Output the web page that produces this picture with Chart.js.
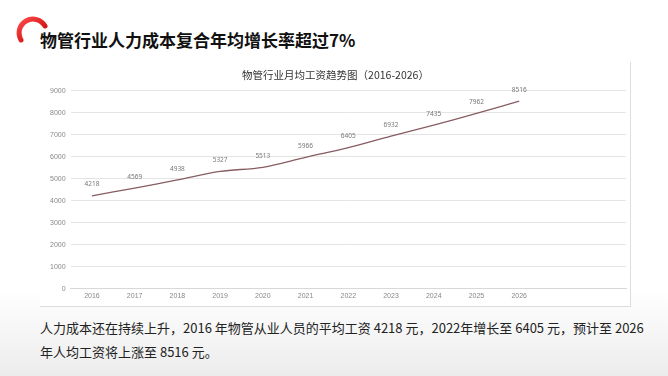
<!DOCTYPE html>
<html><head><meta charset="utf-8">
<script src="https://cdn.jsdelivr.net/npm/chart.js@4"></script>
<style>
html,body{margin:0;padding:0;width:668px;height:376px;overflow:hidden;background:#fff;font-family:"Noto Sans CJK SC","Noto Sans",sans-serif;}
#shade{position:absolute;left:0;top:290px;width:668px;height:86px;background:linear-gradient(to bottom,rgba(240,240,240,0),#ececec);}
#title{position:absolute;left:40px;top:27px;font-size:17px;font-weight:bold;color:#111;}
#logo{position:absolute;left:14px;top:14px;}
#box{position:absolute;left:40px;top:62px;width:590px;height:244px;border-right:1px solid #ddd;border-bottom:1px solid #ddd;background:#fff;}
#note{position:absolute;left:40px;top:316px;font-size:13px;line-height:24px;color:#222;width:620px;}
</style></head><body>
<div id="shade"></div>
<svg id="logo" width="36" height="36" viewBox="0 0 36 36">
<defs><linearGradient id="g" x1="0" y1="0" x2="1" y2="1"><stop offset="0" stop-color="#ff4a4a"/><stop offset="1" stop-color="#c40000"/></linearGradient></defs>
<path d="M7 26 A13 13 0 0 1 31 12" fill="none" stroke="url(#g)" stroke-width="5" stroke-linecap="round"/>
</svg>
<div id="title">物管行业人力成本复合年均增长率超过7%</div>
<div id="box"><canvas id="c" width="590" height="244"></canvas></div>
<div id="note">人力成本还在持续上升，2016 年物管从业人员的平均工资 4218 元，2022年增长至 6405 元，预计至 2026<br>年人均工资将上涨至 8516 元。</div>
<script>
const categories = ['2016','2017','2018','2019','2020','2021','2022','2023','2024','2025','2026','',''];
const wages = [4218,4569,4938,5327,5513,5966,6405,6932,7435,7962,8516,null,null];
const yTicks = [0,1000,2000,3000,4000,5000,6000,7000,8000,9000];
const chartTitle = '物管行业月均工资趋势图（2016-2026）';

const labelPlugin = {
  id:'vlabels',
  afterDatasetsDraw(chart){
    const ctx = chart.ctx;
    const meta = chart.getDatasetMeta(0);
    ctx.save();
    ctx.font = '6.5px "Noto Sans","DejaVu Sans",sans-serif';
    ctx.fillStyle = '#777';
    ctx.textAlign = 'center';
    ctx.textBaseline = 'bottom';
    meta.data.forEach((pt,i)=>{
      const v = wages[i];
      if(v==null) return;
      ctx.fillText(String(v), pt.x, pt.y-8);
    });
    ctx.restore();
  }
};

new Chart(document.getElementById('c'),{
  type:'line',
  data:{labels:categories,datasets:[{data:wages,borderColor:'#875d62',borderWidth:1.3,pointRadius:0,tension:0.35,fill:false}]},
  options:{
    responsive:false,animation:false,
    layout:{padding:{left:5,right:4,top:3,bottom:3}},
    plugins:{legend:{display:false},tooltip:{enabled:false},
      title:{display:true,text:chartTitle,color:'#333',font:{size:10.5,weight:'normal',family:'"Noto Sans CJK SC"'},padding:{top:4,bottom:9}}},
    scales:{
      x:{offset:true,grid:{display:false,drawTicks:false,tickLength:0},border:{color:'#d8d8d8'},ticks:{color:'#888',font:{size:7},padding:3,maxRotation:0}},
      y:{min:0,max:9000,afterBuildTicks(ax){ax.ticks=yTicks.map(v=>({value:v}));},
         grid:{color:'#e4e4e4',drawTicks:false},border:{display:false},
         ticks:{color:'#888',font:{size:7},padding:5,callback:(v)=>String(v)}}
    }
  },
  plugins:[labelPlugin]
});
</script>
</body></html>
